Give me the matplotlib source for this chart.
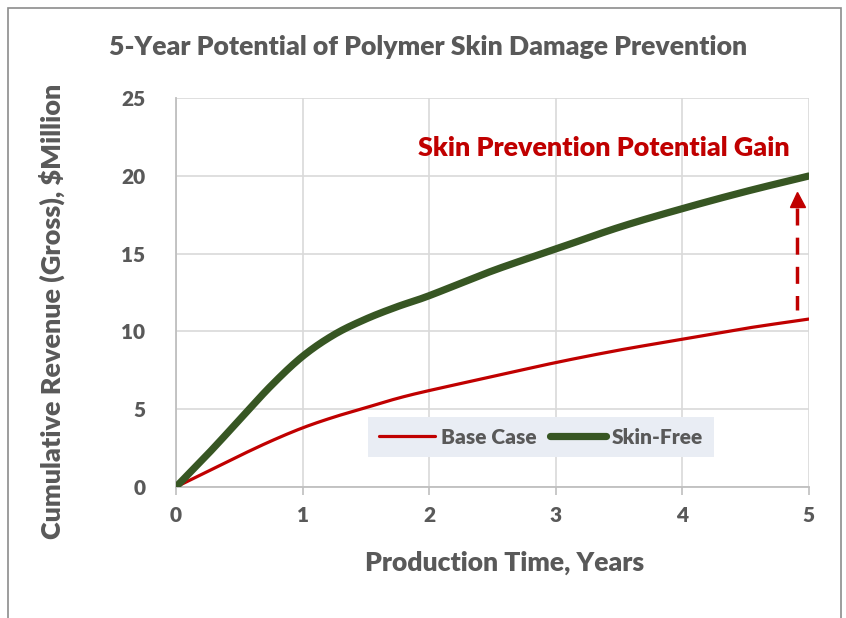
import numpy as np
import matplotlib
matplotlib.use('Agg')
import matplotlib.pyplot as plt
from matplotlib.patches import Rectangle

plt.rcParams['font.family'] = ['Lato', 'DejaVu Sans']
plt.rcParams['font.weight'] = 'heavy'

# data
years = [0, 0.25, 0.5, 0.75, 1, 1.25, 1.5, 1.75, 2, 2.5, 3, 3.5, 4, 4.5, 5]
base_case = [0, 1.0, 2.0, 2.95, 3.8, 4.5, 5.1, 5.7, 6.2, 7.1, 8.0, 8.8, 9.5, 10.2, 10.8]
skin_free = [0, 2.1, 4.3, 6.5, 8.4, 9.8, 10.8, 11.6, 12.3, 13.9, 15.3, 16.7, 17.9, 19.0, 20.0]
xticks = [0, 1, 2, 3, 4, 5]
yticks = [0, 5, 10, 15, 20, 25]

gray_txt = '#595959'
red = '#C00000'
green = '#375623'


def smooth(x, y, n=20):
    # catmull-rom style smoothing like excel's smoothed line
    x = np.asarray(x, float)
    y = np.asarray(y, float)
    px = np.concatenate([[2 * x[0] - x[1]], x, [2 * x[-1] - x[-2]]])
    py = np.concatenate([[2 * y[0] - y[1]], y, [2 * y[-1] - y[-2]]])
    xs, ys = [], []
    t = np.linspace(0, 1, n, endpoint=False)
    for i in range(1, len(px) - 2):
        for arr, out in ((px, xs), (py, ys)):
            p0, p1, p2, p3 = arr[i - 1], arr[i], arr[i + 1], arr[i + 2]
            out.extend(0.5 * (2 * p1 + (-p0 + p2) * t + (2 * p0 - 5 * p1 + 4 * p2 - p3) * t**2
                              + (-p0 + 3 * p1 - 3 * p2 + p3) * t**3))
    xs.append(x[-1])
    ys.append(y[-1])
    return xs, ys


fig = plt.figure(figsize=(8.46, 6.18), dpi=100)
ax = fig.add_axes([0.208, 0.212, 0.748, 0.629])

bx, by = smooth(years, base_case)
gx, gy = smooth(years, skin_free)
ax.plot(bx, by, color=red, lw=2.3, label='Base Case', solid_capstyle='round', zorder=3)
ax.plot(gx, gy, color=green, lw=5.2, label='Skin-Free', solid_capstyle='round', zorder=4)

# dashed arrow for the gain
ax.plot([4.91, 4.91], [17.93, 11.4], color=red, lw=2.5, dashes=(4.9, 3.5), zorder=5)
ax.plot([4.91], [18.5], marker='^', ms=10.8, color=red, lw=0, zorder=5)
note = ax.text(3.38, 21.8, 'Skin Prevention Potential Gain', color=red, fontsize=18,
               ha='center', va='center')

ax.set_xlim(0, 5)
ax.set_ylim(0, 25)
ax.set_xticks(xticks)
ax.set_yticks(yticks)
ax.grid(True, color='#D9D9D9', lw=1.2, zorder=0)
ax.set_axisbelow(True)
for s in ['top', 'right']:
    ax.spines[s].set_visible(False)
for s in ['left', 'bottom']:
    ax.spines[s].set_color('#BFBFBF')
    ax.spines[s].set_linewidth(1.3)
ax.tick_params(axis='x', length=6, width=1.2, color='#BFBFBF', labelsize=15, labelcolor=gray_txt, pad=8)
ax.tick_params(axis='y', length=0, labelsize=15, labelcolor=gray_txt, pad=22)

xl = ax.set_xlabel('Production Time, Years', fontsize=20, color=gray_txt, fontweight='heavy')
yl = ax.set_ylabel('Cumulative Revenue (Gross), $Million', fontsize=20, color=gray_txt, fontweight='heavy')
ax.xaxis.set_label_coords(0.519, -0.165)
ax.yaxis.set_label_coords(-0.175, 0.451)
ttl = fig.text(0.506, 0.924, '5-Year Potential of Polymer Skin Damage Prevention', fontsize=20,
               color=gray_txt, ha='center', va='center')

leg = ax.legend(loc='center', bbox_to_anchor=(0.577, 0.1285), ncol=2, fontsize=15,
                frameon=True, fancybox=False, handlelength=2.7, handletextpad=0.3,
                columnspacing=0.6, borderpad=0.5)
leg.get_frame().set_facecolor('#E9EDF4')
leg.get_frame().set_edgecolor('none')
leg.get_frame().set_alpha(1)
for t in leg.get_texts():
    t.set_color(gray_txt)

# shrink/grow texts to the widths seen in the reference
fig.canvas.draw()
r = fig.canvas.get_renderer()
for txt, target, vertical in [(ttl, 640, False), (note, 372, False), (xl, 280, False), (yl, 457, True)]:
    bb = txt.get_window_extent(r)
    size = bb.height if vertical else bb.width
    txt.set_fontsize(txt.get_fontsize() * target / size)

fig.patches.append(Rectangle((0.009, -0.02), 0.985, 1.007, transform=fig.transFigure,
                             fill=False, edgecolor='#8C8C8C', lw=1.2))

fig.savefig('out.png', dpi=100)
